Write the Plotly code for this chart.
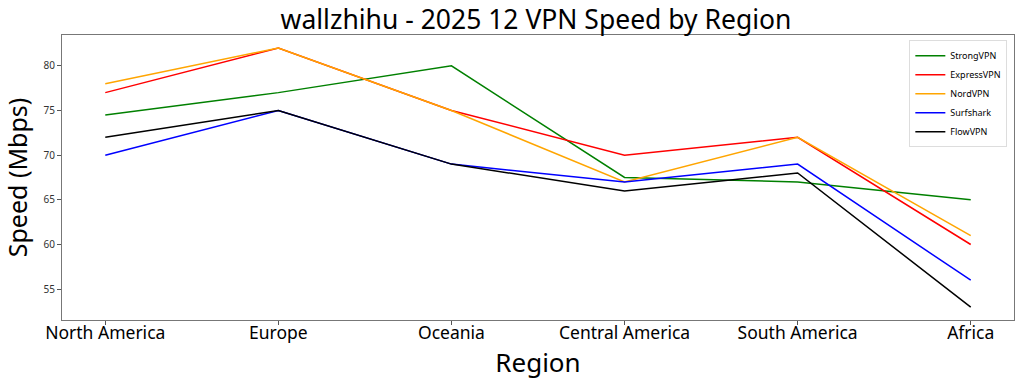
import plotly.graph_objects as go

regions = ["North America", "Europe", "Oceania", "Central America", "South America", "Africa"]
strongvpn = [74.5, 77, 80, 67.5, 67, 65]
expressvpn = [77, 82, 75, 70, 72, 60]
nordvpn = [78, 82, 75, 67, 72, 61]
surfshark = [70, 75, 69, 67, 69, 56]
flowvpn = [72, 75, 69, 66, 68, 53]

series = [
    ("StrongVPN", strongvpn, "green"),
    ("ExpressVPN", expressvpn, "red"),
    ("NordVPN", nordvpn, "orange"),
    ("Surfshark", surfshark, "blue"),
    ("FlowVPN", flowvpn, "black"),
]

fig = go.Figure()
for name, vals, color in series:
    fig.add_trace(go.Scatter(
        x=list(range(len(regions))), y=vals, mode="lines", name=name,
        line=dict(color=color, width=1.5),
    ))

fig.update_layout(
    width=1024, height=384,
    margin=dict(l=57, r=9, t=35, b=64),
    paper_bgcolor="white", plot_bgcolor="white",
    font=dict(family="Noto Sans", color="black"),
    title=dict(text="wallzhihu - 2025 12 VPN Speed by Region", x=(57 + 1015) / 2 / 1024,
               xanchor="center", y=1 - 20 / 384, yanchor="middle",
               font=dict(size=26.5, color="black")),
    xaxis=dict(
        range=[-0.25, 5.25], tickmode="array", tickvals=list(range(len(regions))),
        ticktext=regions, tickfont=dict(size=17.5), ticks="outside", ticklen=4,
        tickcolor="#555", showgrid=False, zeroline=False, showline=True,
        linecolor="#777", linewidth=1, mirror=True, ticklabelstandoff=-7,
        title=dict(text="Region", font=dict(size=26), standoff=0),
    ),
    yaxis=dict(
        range=[51.55, 83.45], tickvals=[55, 60, 65, 70, 75, 80],
        tickfont=dict(size=10, color="#333"), ticks="outside", ticklen=4,
        tickcolor="#555", showgrid=False, zeroline=False, showline=True,
        linecolor="#777", linewidth=1, mirror=True,
        title=dict(text="Speed (Mbps)", font=dict(size=25), standoff=17),
    ),
    legend=dict(
        x=0.993, y=0.982, xanchor="right", yanchor="top",
        bgcolor="rgba(255,255,255,0.8)", bordercolor="#ddd", borderwidth=1,
        font=dict(size=9), tracegroupgap=0, itemwidth=30,
    ),
    showlegend=True,
)

fig.write_html("out.html")
